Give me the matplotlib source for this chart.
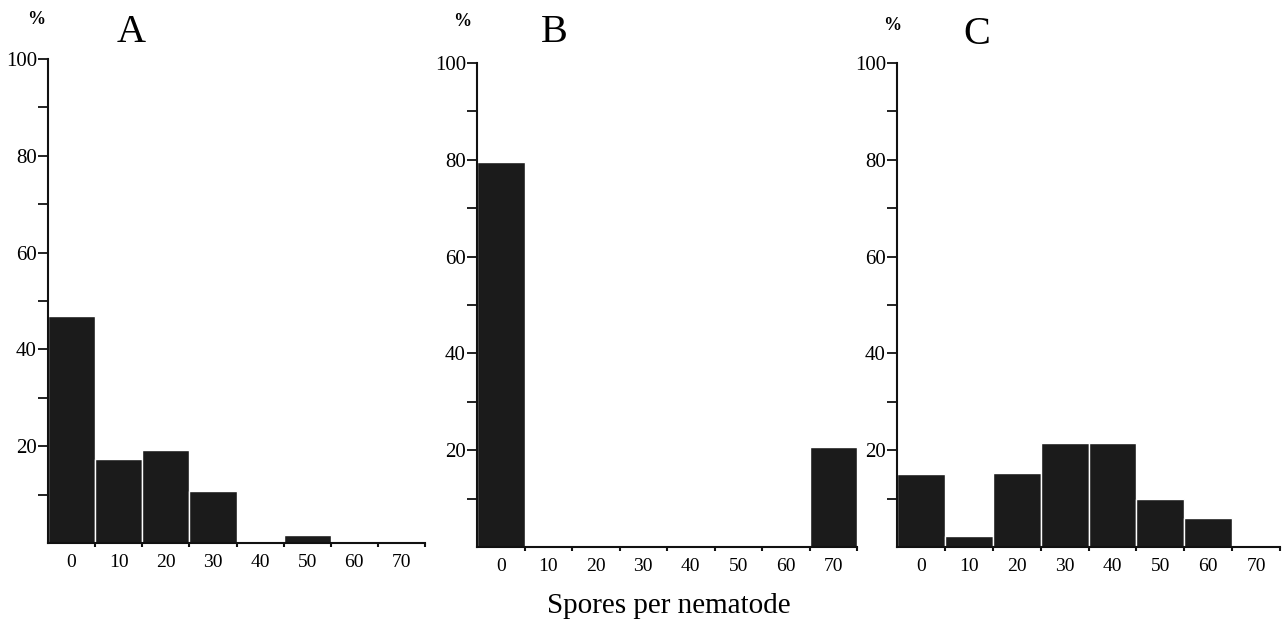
import matplotlib
matplotlib.use("Agg")
import matplotlib.pyplot as plt

plt.rcParams['font.family'] = ['Liberation Serif', 'DejaVu Serif']

# spores per nematode classes and % of nematodes in each class
bins = [0, 10, 20, 30, 40, 50, 60, 70]
pct_a = [47.0, 17.4, 19.2, 10.7, 0, 1.7, 0, 0]
pct_b = [79.5, 0, 0, 0, 0, 0, 0, 20.7]
pct_c = [15.1, 2.3, 15.3, 21.5, 21.5, 9.9, 6.0, 0]
panels = ["A", "B", "C"]
edges = [-5, 5, 15, 25, 35, 45, 55, 65, 75]

W, H = 1287, 623
fig = plt.figure(figsize=(W / 100, H / 100), dpi=100)

# axes boxes in pixels: left, right, top(100%), bottom(0%)
boxes = [(48, 425, 59, 543), (477, 857, 63, 547), (897, 1280, 63, 547)]
letter_pos = [(131, 33), (554, 33), (977, 35)]
pct_pos = [(36, 19), (462, 22), (892, 25)]

for vals, name, box, lp, pp in zip([pct_a, pct_b, pct_c], panels, boxes, letter_pos, pct_pos):
    x0, x1, yt, yb = box
    ax = fig.add_axes([x0 / W, 1 - yb / H, (x1 - x0) / W, (yb - yt) / H])
    ax.bar(bins, vals, width=10, color="#1b1b1b", edgecolor="white", linewidth=1.0, zorder=1)
    ax.set_xlim(-5, 75)
    ax.set_ylim(0, 100)
    for s in ["top", "right"]:
        ax.spines[s].set_visible(False)
    for s in ["left", "bottom"]:
        ax.spines[s].set_linewidth(1.5)
        ax.spines[s].set_color("#111111")
    ax.set_yticks([20, 40, 60, 80, 100])
    ax.set_yticks([10, 30, 50, 70, 90], minor=True)
    ax.tick_params(axis="y", which="both", direction="out", length=7, width=1.3,
                   pad=1, labelsize=15, color="#111111")
    ax.set_xticks(bins)
    ax.set_xticks(edges[1:], minor=True)
    ax.tick_params(axis="x", which="major", length=0, pad=8, labelsize=14)
    ax.tick_params(axis="x", which="minor", direction="out", length=3, width=1.5, color="#111111")
    ax.patch.set_alpha(0)
    fig.text(lp[0] / W, 1 - lp[1] / H, name, fontsize=29, ha="center", va="center")
    fig.text(pp[0] / W, 1 - pp[1] / H, "%", fontsize=13, ha="center", va="center",
             fontweight="bold")

fig.text(669 / W, 1 - 606 / H, "Spores per nematode", fontsize=21, ha="center", va="center")

fig.savefig("out.png", dpi=100)
